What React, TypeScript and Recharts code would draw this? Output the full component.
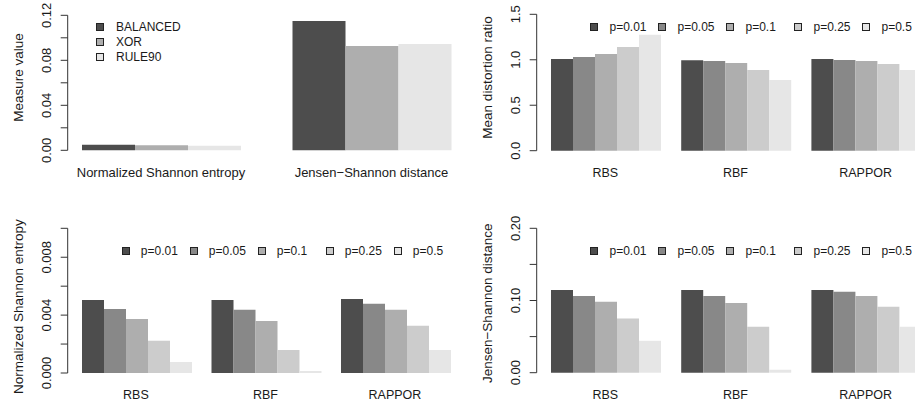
import React from 'react';
import { BarChart, Bar, XAxis, YAxis, Legend } from 'recharts';

// top-left: measure per sequence type
const measures = ['Normalized Shannon entropy', 'Jensen\u2212Shannon distance'];
const sequences = ['BALANCED', 'XOR', 'RULE90'];
const balanced = [0.005, 0.1149];
const xorSeq = [0.0045, 0.0927];
const rule90 = [0.0041, 0.0945];

// the other three panels: method x flip probability
const methods = ['RBS', 'RBF', 'RAPPOR'];
const pLabels = ['p=0.01', 'p=0.05', 'p=0.1', 'p=0.25', 'p=0.5'];

const ratioRBS = [1.008, 1.03, 1.063, 1.14, 1.276];
const ratioRBF = [0.994, 0.986, 0.965, 0.888, 0.778];
const ratioRAPPOR = [1.008, 0.997, 0.986, 0.953, 0.888];

const entropyRBS = [0.00505, 0.00443, 0.00374, 0.00223, 0.00076];
const entropyRBF = [0.00505, 0.00437, 0.0036, 0.00159, 0.00014];
const entropyRAPPOR = [0.00512, 0.00478, 0.00437, 0.00326, 0.00159];

const jsdRBS = [0.1147, 0.1064, 0.0981, 0.0751, 0.0442];
const jsdRBF = [0.1147, 0.1064, 0.0967, 0.0636, 0.0041];
const jsdRAPPOR = [0.1147, 0.112, 0.1064, 0.0912, 0.0636];

// y ticks and their labels (R skips every other label)
const measureTicks = [0, 0.02, 0.04, 0.06, 0.08, 0.1, 0.12];
const measureTickLabels = ['0.00', '', '0.04', '', '0.08', '', '0.12'];
const ratioTicks = [0, 0.5, 1, 1.5];
const ratioTickLabels = ['0.0', '0.5', '1.0', '1.5'];
const entropyTicks = [0, 0.002, 0.004, 0.006, 0.008, 0.01];
const entropyTickLabels = ['0.000', '', '0.004', '', '0.008', ''];
const jsdTicks = [0, 0.05, 0.1, 0.15, 0.2];
const jsdTickLabels = ['0.00', '', '0.10', '', '0.20'];

const grays3 = ['#4D4D4D', '#AEAEAE', '#E6E6E6'];
const grays5 = ['#4D4D4D', '#888888', '#AEAEAE', '#CCCCCC', '#E6E6E6'];

const FONT = '"Liberation Sans", Arial, Helvetica, sans-serif';
const INK = '#1a1a1a';

const measureRows = measures.map((m, i) => ({ name: m, s0: balanced[i], s1: xorSeq[i], s2: rule90[i] }));

const byMethod = (lists: number[][]) =>
  lists.map((vals, i) => {
    const row: Record<string, any> = { name: methods[i] };
    vals.forEach((v, j) => (row['s' + j] = v));
    return row;
  });

const ratioRows = byMethod([ratioRBS, ratioRBF, ratioRAPPOR]);
const entropyRows = byMethod([entropyRBS, entropyRBF, entropyRAPPOR]);
const jsdRows = byMethod([jsdRBS, jsdRBF, jsdRAPPOR]);

type PanelProps = {
  box: { left: number; top: number; width: number; height: number };
  axisX: number;
  plotTop: number;
  plotBottom: number;
  plotRight: number;
  padLeft: number;
  gap: number;
  rows: Record<string, any>[];
  names: string[];
  colors: string[];
  ticks: number[];
  tickLabels: string[];
  title: string;
  titleY: number;
  catSize: number;
  legend: { left: number; top: number; vertical: boolean; textGap: number };
};

function Panel(props: PanelProps) {
  const { box, axisX, plotTop, plotBottom, plotRight, padLeft, gap, rows, names, colors, ticks, tickLabels, title, titleY, catSize, legend } = props;

  const yTick = ({ x, y, payload }: any) => {
    const label = tickLabels[ticks.indexOf(payload.value)];
    if (!label) return <g />;
    return (
      <text x={x} y={y} transform={`rotate(-90 ${x} ${y})`} textAnchor="middle" dominantBaseline="central"
        fontSize={13} fontFamily={FONT} fill={INK}>
        {label}
      </text>
    );
  };

  const xTick = ({ x, y, payload }: any) => (
    <text x={x} y={y} textAnchor="middle" dominantBaseline="central" fontSize={catSize} fontFamily={FONT} fill={INK}>
      {payload.value}
    </text>
  );

  const titleLabel = () => {
    const tx = axisX - 49.5;
    return (
      <text x={tx} y={titleY} transform={`rotate(-90 ${tx} ${titleY})`} textAnchor="middle" dominantBaseline="central"
        fontSize={13.5} fontFamily={FONT} fill={INK}>
        {title}
      </text>
    );
  };

  // keep the series order (the legend sorts by name otherwise)
  const legendContent = ({ payload }: any) => {
    const items = [...(payload || [])].sort((a: any, b: any) => names.indexOf(a.value) - names.indexOf(b.value));
    return (
      <div style={{ display: 'flex', flexDirection: legend.vertical ? 'column' : 'row', fontFamily: FONT, fontSize: 12, color: INK }}>
        {items.map((item: any) => (
          <div key={item.value} style={{ display: 'flex', alignItems: 'center', height: legend.vertical ? 15.2 : 14, width: legend.vertical ? 'auto' : 68, whiteSpace: 'nowrap' }}>
            <span style={{ width: 6, height: 6, border: '1px solid #222', background: item.color, marginRight: legend.textGap, flex: 'none' }} />
            <span>{item.value}</span>
          </div>
        ))}
      </div>
    );
  };

  return (
    <div style={{ position: 'absolute', left: box.left, top: box.top }}>
      <BarChart
        width={box.width}
        height={box.height}
        data={rows}
        margin={{ top: plotTop, right: box.width - plotRight, left: 0, bottom: 0 }}
        barGap={0}
        barCategoryGap={gap}
      >
        <XAxis dataKey="name" type="category" interval={0} axisLine={false} tickLine={false} tickSize={0} tickMargin={22}
          height={box.height - plotBottom} padding={{ left: padLeft, right: 0 }} tick={xTick} />
        <YAxis type="number" domain={[0, ticks[ticks.length - 1]]} ticks={ticks} interval={0} width={axisX}
          tickSize={7} tickMargin={14} axisLine={{ stroke: '#333' }} tickLine={{ stroke: '#333' }} tick={yTick}
          label={{ content: titleLabel }} />
        <Legend layout="vertical" align="center" verticalAlign="middle" content={legendContent}
          wrapperStyle={{ left: legend.left, top: legend.top, width: 'auto', right: 'auto', bottom: 'auto' }} />
        {names.map((n, i) => (
          <Bar key={n} dataKey={'s' + i} name={n} fill={colors[i]} isAnimationActive={false} />
        ))}
      </BarChart>
    </div>
  );
}

export default function App() {
  return (
    <div style={{ position: 'relative', width: 915, height: 407, overflow: 'hidden', background: '#fff' }}>
      <style>{'body{margin:0}'}</style>
      <Panel
        box={{ left: 0, top: 0, width: 480, height: 200 }}
        axisX={67.7} plotTop={15.3} plotBottom={150.3} plotRight={476.7} padLeft={-12} gap={26.3}
        rows={measureRows} names={sequences} colors={grays3}
        ticks={measureTicks} tickLabels={measureTickLabels}
        title="Measure value" titleY={77.5} catSize={13}
        legend={{ left: 96, top: 19.4, vertical: true, textGap: 12 }}
      />
      <Panel
        box={{ left: 455, top: 0, width: 480, height: 200 }}
        axisX={81.7} plotTop={14.3} plotBottom={150.7} plotRight={475.75} padLeft={3.45} gap={10.85}
        rows={ratioRows} names={pLabels} colors={grays5}
        ticks={ratioTicks} tickLabels={ratioTickLabels}
        title="Mean distortion ratio" titleY={77.5} catSize={12.5}
        legend={{ left: 134.5, top: 20.3, vertical: false, textGap: 12 }}
      />
      <Panel
        box={{ left: 0, top: 205, width: 470, height: 202 }}
        axisX={67.7} plotTop={23.3} plotBottom={168} plotRight={459.7} padLeft={3.5} gap={10.8}
        rows={entropyRows} names={pLabels} colors={grays5}
        ticks={entropyTicks} tickLabels={entropyTickLabels}
        title="Normalized Shannon entropy" titleY={101.7} catSize={12.5}
        legend={{ left: 121.8, top: 38.5, vertical: false, textGap: 11 }}
      />
      <Panel
        box={{ left: 455, top: 205, width: 480, height: 202 }}
        axisX={81.7} plotTop={23.3} plotBottom={167.7} plotRight={475.75} padLeft={3.45} gap={10.85}
        rows={jsdRows} names={pLabels} colors={grays5}
        ticks={jsdTicks} tickLabels={jsdTickLabels}
        title={'Jensen\u2212Shannon distance'} titleY={98.3} catSize={12.5}
        legend={{ left: 134.5, top: 38.7, vertical: false, textGap: 12 }}
      />
    </div>
  );
}
